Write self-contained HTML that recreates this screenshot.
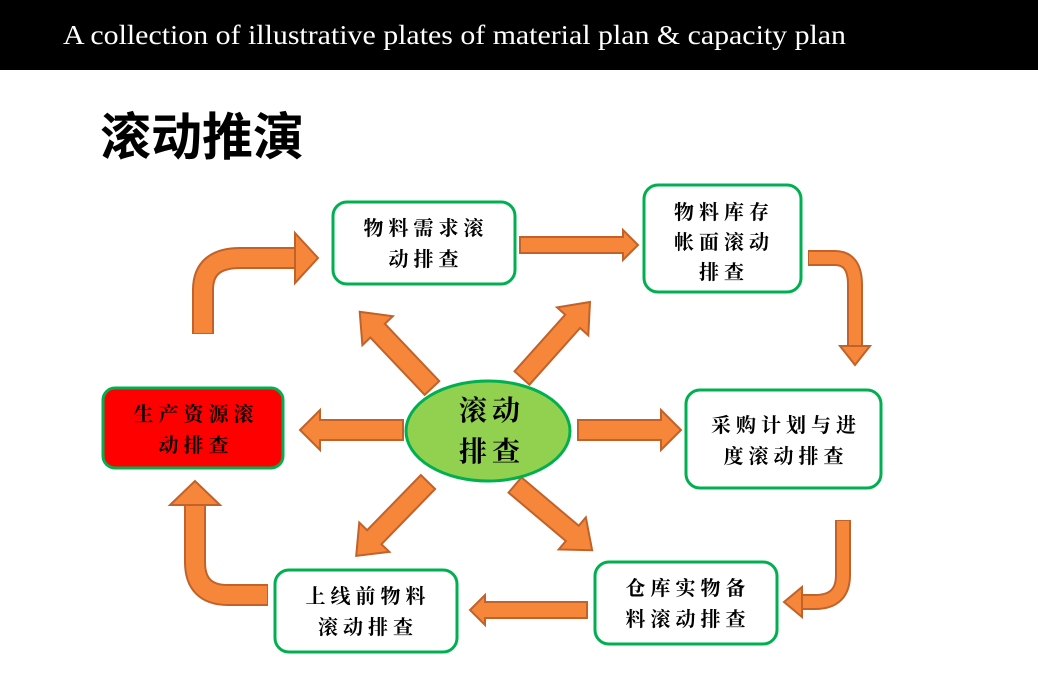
<!DOCTYPE html>
<html><head><meta charset="utf-8"><style>
body{margin:0;width:1038px;height:690px;overflow:hidden;background:#fff}
</style></head><body>
<svg width="1038" height="690" xmlns="http://www.w3.org/2000/svg">
<rect x="0" y="0" width="1038" height="70" fill="#000"/>
<text x="63" y="44" fill="#fff" font-family="Liberation Serif, serif" font-size="27" textLength="783" lengthAdjust="spacingAndGlyphs">A collection of illustrative plates of material plan &amp; capacity plan</text>
<text x="100" y="155" font-family="Liberation Sans, Noto Sans CJK SC, sans-serif" font-weight="bold" font-size="51">滚动推演</text>
<g fill="#f5863a" stroke="#c0622a" stroke-width="2" stroke-linejoin="miter">
<path transform="translate(432,388) rotate(-133.5)" d="M0,-10 L79,-10 L79,-21 L105,0 L79,21 L79,10 L0,10 Z"/>
<path transform="translate(522,378) rotate(-48.2)" d="M0,-10 L76,-10 L76,-21 L102,0 L76,21 L76,10 L0,10 Z"/>
<path transform="translate(428,482) rotate(134.2)" d="M0,-10 L77,-10 L77,-21 L103,0 L77,21 L77,10 L0,10 Z"/>
<path transform="translate(515,485) rotate(40.2)" d="M0,-10 L75,-10 L75,-21 L101,0 L75,21 L75,10 L0,10 Z"/>
<path transform="translate(403,430) rotate(180)" d="M0,-10 L83,-10 L83,-20 L103,0 L83,20 L83,10 L0,10 Z"/>
<path transform="translate(578,430)" d="M0,-10 L83,-10 L83,-20 L103,0 L83,20 L83,10 L0,10 Z"/>
<path transform="translate(520,245)" d="M0,-8 L103,-8 L103,-15 L118,0 L103,15 L103,8 L0,8 Z"/>
<path transform="translate(587,610) rotate(180)" d="M0,-8 L102,-8 L102,-15 L117,0 L102,15 L102,8 L0,8 Z"/>
</g>
<g fill="none" stroke-linejoin="round">
<path d="M203,334 V290 Q203,258 240,258 H296" stroke="#c0622a" stroke-width="22"/>
<path d="M203,333 V290 Q203,258 240,258 H297" stroke="#f5863a" stroke-width="18"/>
<path d="M808,258 H835 Q855,258 855,285 V346" stroke="#c0622a" stroke-width="16"/>
<path d="M809,258 H835 Q855,258 855,285 V347" stroke="#f5863a" stroke-width="12"/>
<path d="M843,520 V575 Q843,602 815,602 H802" stroke="#c0622a" stroke-width="16"/>
<path d="M843,521 V575 Q843,602 815,602 H801" stroke="#f5863a" stroke-width="12"/>
<path d="M268,595 H228 Q195,595 195,562 V505" stroke="#c0622a" stroke-width="22"/>
<path d="M267,595 H228 Q195,595 195,562 V504" stroke="#f5863a" stroke-width="18"/>
</g>
<g fill="#f5863a" stroke="#c0622a" stroke-width="2">
<path d="M295,233 L318,258 L295,283 Z"/>
<path d="M840,346 L870,346 L855,365 Z"/>
<path d="M802,587 L802,617 L784,602 Z"/>
<path d="M170,505 L220,505 L195,481 Z"/>
</g>
<g stroke="#00b050" stroke-width="3" fill="#fff">
<rect x="333" y="202" width="182" height="82" rx="14"/>
<rect x="644" y="185" width="157" height="107" rx="14"/>
<rect x="686" y="390" width="195" height="98" rx="14"/>
<rect x="595" y="562" width="182" height="82" rx="14"/>
<rect x="275" y="570" width="182" height="82" rx="14"/>
<rect x="103" y="388" width="180" height="80" rx="12" fill="#ff0000"/>
<ellipse cx="488" cy="431" rx="82" ry="50" fill="#92d050"/>
</g>
<g font-family="Liberation Serif, Noto Serif CJK SC, serif" font-weight="bold" font-size="20" text-anchor="middle" fill="#000" letter-spacing="5">
<text x="426" y="235">物料需求滚</text><text x="426" y="266">动排查</text>
<text x="724" y="219">物料库存</text><text x="724" y="249">帐面滚动</text><text x="724" y="279">排查</text>
<text x="786" y="432">采购计划与进</text><text x="786" y="463">度滚动排查</text>
<text x="688" y="595">仓库实物备</text><text x="688" y="626">料滚动排查</text>
<text x="368" y="603">上线前物料</text><text x="368" y="634">滚动排查</text>
<text x="196" y="421">生产资源滚</text><text x="196" y="452">动排查</text>
<text x="492" y="420" font-size="28">滚动</text><text x="492" y="461" font-size="28">排查</text>
</g>
</svg>
</body></html>
